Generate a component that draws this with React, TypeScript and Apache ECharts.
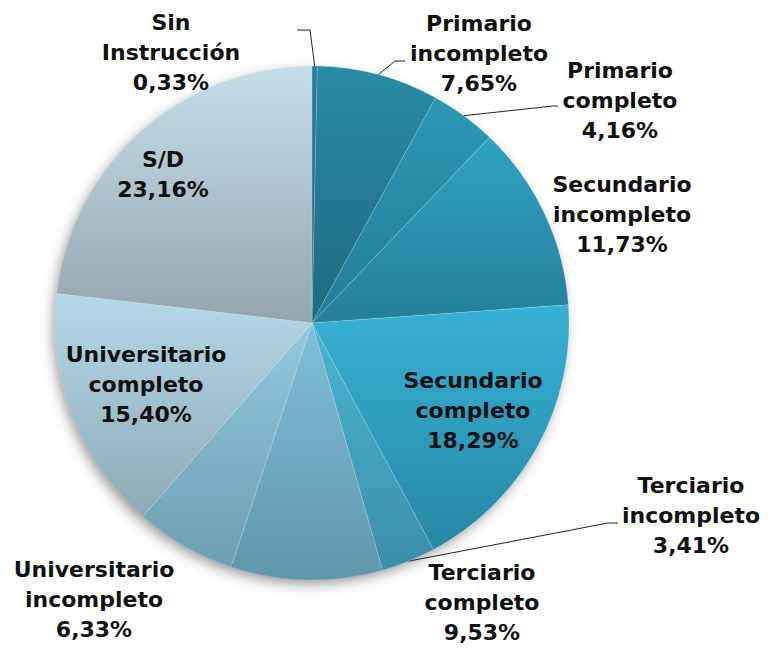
import React, { useEffect, useRef } from 'react';
import * as echarts from 'echarts';

const categories = [
  'Sin Instrucción',
  'Primario incompleto',
  'Primario completo',
  'Secundario incompleto',
  'Secundario completo',
  'Terciario incompleto',
  'Terciario completo',
  'Universitario incompleto',
  'Universitario completo',
  'S/D',
];
const percentages = [0.33, 7.65, 4.16, 11.73, 18.29, 3.41, 9.53, 6.33, 15.4, 23.16];

const topColors = ['#2a7f98', '#288ba5', '#2c97b4', '#30a3c4', '#36b2d6', '#4cb5d4', '#7fc0da', '#91c9de', '#b3d9e9', '#c6dee9'];
const bottomColors = ['#1f667b', '#1e6a80', '#237e98', '#247f9a', '#2787a5', '#3a8ea8', '#5f97aa', '#6c9fb2', '#8fa9b5', '#94a6af'];

// label block centres (pixels)
const labelCenters: number[][] = [
  [171, 52], [479, 53], [620, 100], [622, 214], [473, 410],
  [691, 515], [482, 602], [94, 599], [146, 384], [163, 174],
];
const labelOutside = [true, true, true, false, false, true, true, true, false, false];
const leaderBends: (number[][] | null)[] = [
  [[310, 30], [297, 30]],
  [[395, 61], [405, 61]],
  [[553, 106], [558, 106]],
  null,
  null,
  [[608, 523], [618, 523]],
  null,
  null,
  null,
  null,
];

const fmt = (v: number) => v.toFixed(2).replace('.', ',') + '%';

export default function App() {
  const ref = useRef<HTMLDivElement>(null);
  useEffect(() => {
    if (!ref.current) return;
    const chart = echarts.init(ref.current, null, { renderer: 'svg' });
    const data = categories.map((name, i) => ({
      name,
      value: percentages[i],
      itemStyle: {
        color: new echarts.graphic.LinearGradient(0, 0, 0, 1, [
          { offset: 0, color: topColors[i] },
          { offset: 1, color: bottomColors[i] },
        ]),
      },
      label: { position: labelOutside[i] ? 'outside' : 'inside' },
      labelLine: { show: !!leaderBends[i] },
    }));
    chart.setOption({
      animation: false,
      backgroundColor: '#ffffff',
      graphic: [
        {
          type: 'circle',
          z: 0,
          shape: { cx: 312, cy: 323, r: 255 },
          style: {
            fill: '#ffffff',
            shadowBlur: 14,
            shadowColor: 'rgba(0,0,0,0.45)',
            shadowOffsetX: -3,
            shadowOffsetY: 5,
          },
        },
      ],
      series: [
        {
          type: 'pie',
          z: 2,
          center: [312, 323],
          radius: [0, 257],
          startAngle: 90,
          clockwise: true,
          avoidLabelOverlap: false,
          data,
          itemStyle: {
            borderColor: 'rgba(255,255,255,0.25)',
            borderWidth: 0.6,
          },
          label: {
            show: true,
            formatter: (p: any) => p.name.replace(' ', '\n') + '\n' + fmt(p.value),
            fontFamily: 'DejaVu Sans',
            fontWeight: 'bold',
            fontSize: 22,
            lineHeight: 30,
            color: '#111111',
            align: 'center',
          },
          labelLine: {
            show: true,
            smooth: false,
            length: 10,
            length2: 10,
            lineStyle: { color: '#222222', width: 1 },
          },
          labelLayout: (params: any) => {
            const i = params.dataIndex;
            const c = labelCenters[i];
            const res: any = { x: c[0], y: c[1], align: 'center', verticalAlign: 'middle' };
            const bends = leaderBends[i];
            if (bends && params.labelLinePoints && params.labelLinePoints[0]) {
              res.labelLinePoints = [params.labelLinePoints[0], ...bends];
            }
            return res;
          },
        },
      ],
    });
    return () => chart.dispose();
  }, []);
  return (
    <div
      ref={ref}
      style={{ position: 'fixed', left: 0, top: 0, width: 768, height: 648 }}
    />
  );
}
